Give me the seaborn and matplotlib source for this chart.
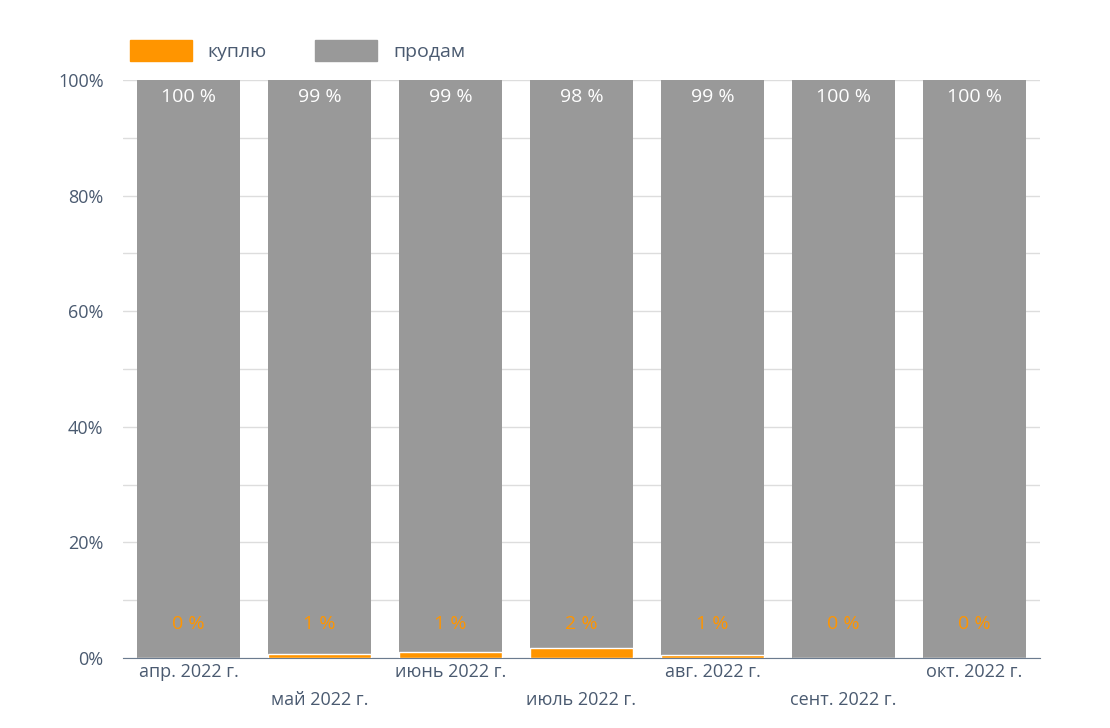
import numpy as np
import pandas as pd
import matplotlib
matplotlib.use("Agg")
import matplotlib.pyplot as plt
import seaborn as sns
from matplotlib.patches import Patch

months = ["апр. 2022 г.", "май 2022 г.", "июнь 2022 г.", "июль 2022 г.",
          "авг. 2022 г.", "сент. 2022 г.", "окт. 2022 г."]
buy = [0.0, 0.7, 1.0, 1.8, 0.6, 0.0, 0.0]
sell = [100 - b for b in buy]
buy_labels = ["0 %", "1 %", "1 %", "2 %", "1 %", "0 %", "0 %"]
sell_labels = ["100 %", "99 %", "99 %", "98 %", "99 %", "100 %", "100 %"]

orange = "#ff9500"
gray = "#999999"
text_col = "#4a5a70"

sns.set_style("white")
plt.rcParams["font.family"] = ["Open Sans", "DejaVu Sans"]

df = pd.DataFrame({"month": months, "buy": buy, "sell": sell})
df["total"] = df["buy"] + df["sell"]

fig = plt.figure(figsize=(11.1, 7.28), dpi=100)
ax = fig.add_axes([123 / 1110, 1 - 658 / 728, 917 / 1110, 578 / 728])

sns.barplot(data=df, x="month", y="total", color=gray, width=0.78,
            saturation=1, ax=ax, edgecolor="none", zorder=2)
sns.barplot(data=df, x="month", y="buy", color=orange, width=0.78,
            saturation=1, ax=ax, edgecolor="white", linewidth=1, zorder=3)

for i in range(len(months)):
    ax.text(i, 97, sell_labels[i], ha="center", va="center", color="white", fontsize=14, zorder=4)
    ax.text(i, 5.9, buy_labels[i], ha="center", va="center", color=orange, fontsize=14, zorder=4)

ax.set_xlim(-0.5, 6.5)
ax.set_ylim(0, 100)
ax.set_yticks(np.arange(0, 101, 20))
ax.set_yticklabels([f"{v}%" for v in range(0, 101, 20)], color=text_col, fontsize=13)
ax.set_yticks(np.arange(0, 101, 10), minor=True)
ax.grid(axis="y", which="both", color="#dddddd", linewidth=1, zorder=0)
ax.set_axisbelow(True)
ax.tick_params(axis="y", length=0, pad=14)
ax.tick_params(axis="x", length=0)
ax.set_xticks(range(len(months)))
ax.set_xticklabels([])
for i, m in enumerate(months):
    ax.text(i, -2.5 if i % 2 == 0 else -7.2, m, ha="center", va="center",
            color=text_col, fontsize=13, transform=ax.transData, clip_on=False)
ax.set_xlabel("")
ax.set_ylabel("")
for s in ["top", "right", "left"]:
    ax.spines[s].set_visible(False)
ax.spines["bottom"].set_color("#6b7b8f")

handles = [Patch(color=orange, label="куплю"), Patch(color=gray, label="продам")]
fig.legend(handles=handles, loc="upper left", bbox_to_anchor=(112 / 1110, 1 - 22 / 728),
           ncol=2, frameon=False, fontsize=14, handlelength=3.2, handleheight=1.3,
           columnspacing=2.5, labelcolor=text_col)

fig.savefig("out.png", dpi=100)
